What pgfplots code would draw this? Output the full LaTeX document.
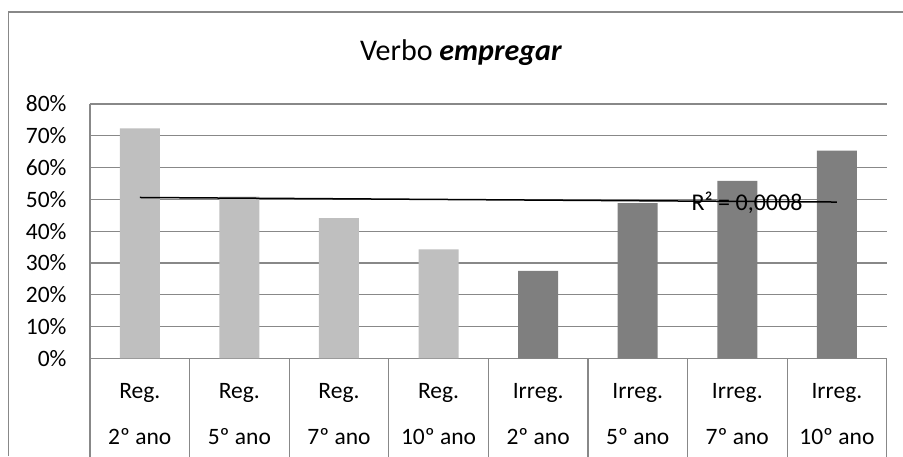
\documentclass[border=0pt]{standalone}
\usepackage{pgfplots}
\pgfplotsset{compat=1.18}
\usepackage{fontspec}
\setmainfont{Carlito}
\definecolor{gridc}{RGB}{136,136,136}
\definecolor{lightbar}{RGB}{191,191,191}
\definecolor{darkbar}{RGB}{127,127,127}
\begin{document}
\begin{tikzpicture}
\begin{axis}[
  name=ax,
  scale only axis, width=796.7pt, height=254.3pt,
  xmin=0.5, xmax=8.5, ymin=0, ymax=80,
  clip=false,
  axis x line*=bottom, axis y line*=left,
  axis line style={gridc, line width=1.2pt, -},
  ytick={0,10,...,80},
  yticklabel={\pgfmathparse{int(round(\tick))}\pgfmathresult\%},
  yticklabel style={anchor=east, inner sep=0pt, xshift=-23.3pt, font=\fontsize{23.5}{28}\selectfont},
  ymajorgrids, grid style={gridc, line width=1.2pt},
  major tick length=0pt,
  xtick={1,...,8},
  xticklabels={{Reg.\\2º ano},{Reg.\\5º ano},{Reg.\\7º ano},{Reg.\\10º ano},{Irreg.\\2º ano},{Irreg.\\5º ano},{Irreg.\\7º ano},{Irreg.\\10º ano}},
  xticklabel style={align=center, anchor=north, inner sep=0pt, yshift=-25pt, font=\fontsize{23.5}{46}\selectfont},
  extra x ticks={0.5,1.5,2.5,3.5,4.5,5.5,6.5,7.5,8.5},
  extra x tick labels={},
  extra x tick style={major tick length=98.3pt, tick align=outside, tick style={gridc, line width=1.2pt}, xmajorgrids=false},
]
\addplot[ybar, bar shift=0pt, bar width=40pt, fill=lightbar, draw=none] coordinates {(1,72.3) (2,50.9) (3,44.1) (4,34.3)};
\addplot[ybar, bar shift=0pt, bar width=40pt, fill=darkbar, draw=none] coordinates {(5,27.5) (6,48.8) (7,55.8) (8,65.3)};
\addplot[black, line width=1.5pt, mark=none] coordinates {(1,50.59) (8,49.16)};
\node[anchor=base west, inner sep=0pt, font=\fontsize{24}{28}\selectfont] at (axis cs:6.54,46.4) {R² = 0,0008};
\end{axis}
\begin{scope}[shift={(ax.south west)}, x=1pt, y=1pt]
\begin{scope}[on background layer/.try]
\end{scope}
\draw[gridc, line width=1.5pt] (-81.5,-97.7) -- (-81.5,346.3) -- (813,346.3);
\node[anchor=base, font=\fontsize{30}{36}\selectfont] at (371,297.3) {Verbo \textbf{\textit{empregar}}};
\pgfresetboundingbox
\path[use as bounding box] (-90,-97.7) rectangle (813,358.3);
\end{scope}
\end{tikzpicture}
\end{document}
